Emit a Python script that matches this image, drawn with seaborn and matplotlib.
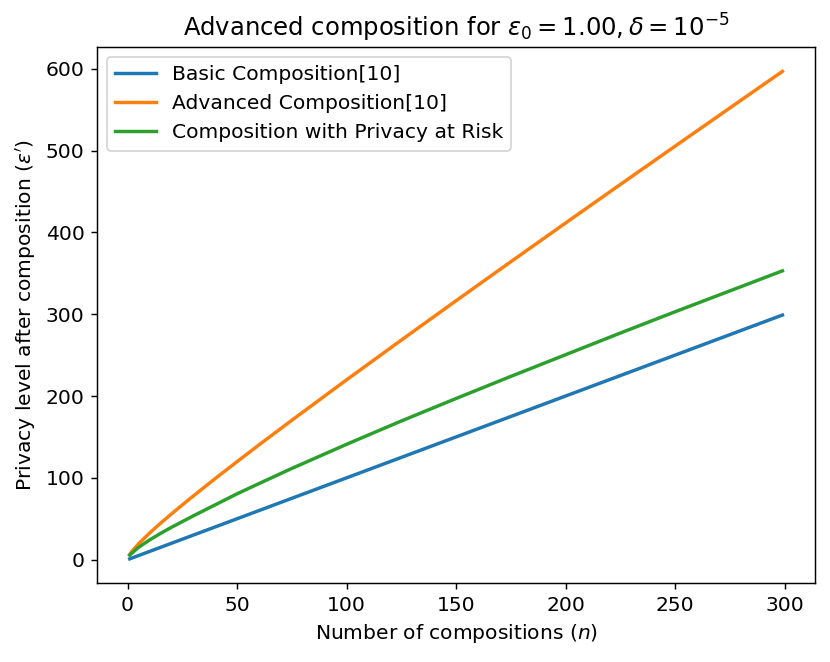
import pandas as pd
import seaborn as sns
import matplotlib
matplotlib.use("Agg")
import matplotlib.pyplot as plt

# Values
n_values = [1, 2, 5, 10, 15, 20, 25, 30, 40, 50, 60, 75, 100, 125, 150, 175, 200,
            225, 250, 275, 299]
basic = [1, 2, 5, 10, 15, 20, 25, 30, 40, 50, 60, 75, 100, 125, 150, 175, 200,
         225, 250, 275, 299]
advanced = [6.5, 10.2, 19.3, 32.4, 44.4, 55.8, 66.9, 77.8, 99.1, 119.8, 140.3, 170.4,
            219.8, 268.4, 316.5, 364.2, 411.5, 458.6, 505.4, 552.1, 596.8]
privacy_at_risk = [5.5, 8, 15, 24, 32, 39.5, 46.5, 53.5, 67, 80.5, 93, 111.5, 141,
                   169.5, 197, 224, 250.5, 277, 303, 328.5, 353]

labels = ["Basic Composition[10]", "Advanced Composition[10]",
          "Composition with Privacy at Risk"]

df = pd.DataFrame({
    "n": n_values * 3,
    "eps": basic + advanced + privacy_at_risk,
    "method": [labels[0]] * len(n_values) + [labels[1]] * len(n_values)
              + [labels[2]] * len(n_values),
})

plt.rcParams["font.size"] = 11.2

fig, ax = plt.subplots(figsize=(830 / 130, 662 / 130), dpi=130)
fig.subplots_adjust(left=0.117, right=0.982, top=0.929, bottom=0.119)

sns.lineplot(data=df, x="n", y="eps", hue="method", hue_order=labels,
             palette=["#1f77b4", "#ff7f0e", "#2ca02c"], linewidth=1.9, ax=ax)

ax.set_title(r"Advanced composition for $\varepsilon_0 = 1.00, \delta = 10^{-5}$")
ax.set_xlabel(r"Number of compositions ($n$)")
ax.set_ylabel(r"Privacy level after composition ($\varepsilon'$)")
ax.legend(loc="upper left", title=None)

fig.savefig("out.png", dpi=130)
